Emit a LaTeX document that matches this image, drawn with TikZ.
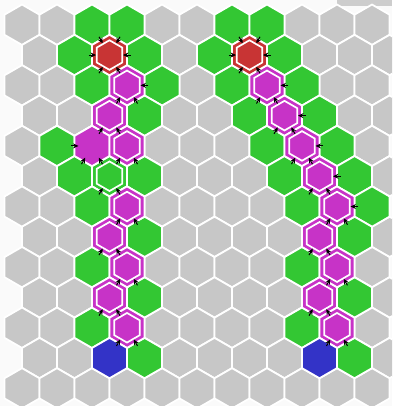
\documentclass[tikz,border=0pt]{standalone}
\usetikzlibrary{arrows.meta, calc}
\definecolor{hgray}{RGB}{199,199,199}
\definecolor{hgreen}{RGB}{51,199,51}
\definecolor{hred}{RGB}{200,52,52}
\definecolor{hmag}{RGB}{199,51,199}
\definecolor{hblue}{RGB}{51,51,199}
\definecolor{hbg}{RGB}{250,250,250}
% one hexagon (pointy top) round a named centre
\newcommand{\hexat}[2]{\path[#2] (#1) +(30:20.2) -- +(90:20.2) -- +(150:20.2) -- +(210:20.2) -- +(270:20.2) -- +(330:20.2) -- cycle;}
\newcommand{\ringat}[1]{\draw[rg] (#1) +(30:14.8) -- +(90:14.8) -- +(150:14.8) -- +(210:14.8) -- +(270:14.8) -- +(330:14.8) -- cycle;}
\newcommand{\edgear}[2]{\draw[ar] ($(#1)+(#2:21)$) -- ($(#1)+(#2:13.5)$);}

\begin{document}
\begin{tikzpicture}[
  x=1pt, y=1pt,
  cl/.style={draw=white, line width=1.8pt, fill=hgray},
  gn/.style={cl, fill=hgreen},
  rd/.style={cl, fill=hred},
  mg/.style={cl, fill=hmag},
  bl/.style={cl, fill=hblue},
  rg/.style={white, line width=1.7pt},
  ar/.style={-{Stealth[length=5.5pt, width=5pt]}, line width=1pt, black}]
\useasboundingbox (0,0) rectangle (392,406);
\clip (0,0) rectangle (392,406);
\fill[hbg] (0,0) rectangle (392,406);
\fill[hgray!90!white] (337,400) rectangle (392,406);
% the grid
\foreach \r in {0,...,12} {
  \foreach \c in {0,...,10} {
    \pgfmathsetmacro{\xc}{22+35*\c+17.5*mod(\r,2)}
    \pgfmathsetmacro{\yc}{381.25-30.3*\r}
    \coordinate (h-\r-\c) at (\xc,\yc);
    \hexat{h-\r-\c}{cl}
  }
}
% reached cells
\foreach \r/\c in {0/2,0/3,1/1,1/3,2/2,2/4,3/3,4/1,5/1,5/2,5/3,6/2,7/3,8/2,9/3,10/2,11/3,
                   0/6,0/7,1/5,1/7,2/6,2/8,3/6,3/8,4/7,4/9,5/7,5/9,6/8,6/10,7/9,8/8,9/9,10/8,11/9} {
  \hexat{h-\r-\c}{gn}
}
\foreach \r/\c in {2/3,3/2,4/2,4/3,6/3,7/2,8/3,9/2,10/3,
                   2/7,3/7,4/8,5/8,6/9,7/8,8/9,9/8,10/9} {
  \hexat{h-\r-\c}{mg}
}
\hexat{h-1-2}{rd}
\hexat{h-1-6}{rd}
\hexat{h-11-2}{bl}
\hexat{h-11-8}{bl}
% path outlines
\foreach \r/\c in {1/2,2/3,3/2,4/3,5/2,6/3,7/2,8/3,9/2,10/3,
                   1/6,2/7,3/7,4/8,5/8,6/9,7/8,8/9,9/8,10/9} {
  \ringat{h-\r-\c}
}
% arrows on the edges
\foreach \c in {2,6} {
  \foreach \a in {0,60,120,180,240,300} {
    \edgear{h-1-\c}{\a}
  }
}
\foreach \r/\c in {2/3,2/7,3/7,4/8,5/8,6/9} {
  \edgear{h-\r-\c}{0}
}
\edgear{h-4-2}{180}
\foreach \r/\c in {2/3,3/2,4/2,4/3,5/2,6/3,7/2,8/3,9/2,10/3,
                   2/7,3/7,4/8,5/8,6/9,7/8,8/9,9/8,10/9} {
  \edgear{h-\r-\c}{240}
  \edgear{h-\r-\c}{300}
}
\end{tikzpicture}
\end{document}
